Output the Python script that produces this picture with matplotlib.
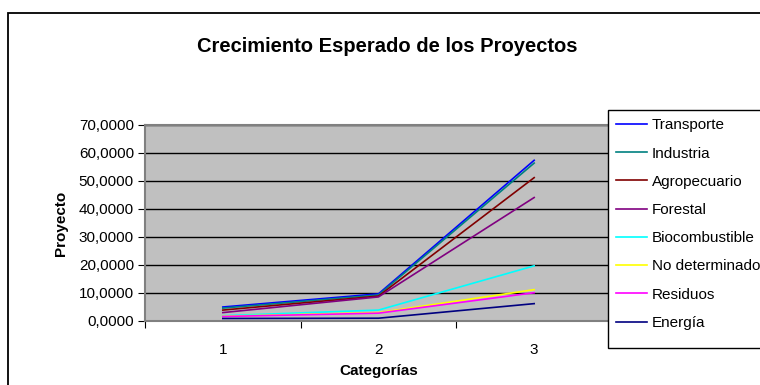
import matplotlib
matplotlib.use("Agg")
import matplotlib.pyplot as plt
from matplotlib.patches import Rectangle
from matplotlib.ticker import FuncFormatter, FixedLocator

plt.rcParams['font.family'] = ['Liberation Sans', 'DejaVu Sans']

# Data
categorias = [1, 2, 3]
transporte = [5.0, 9.7, 57.4]
industria = [4.6, 9.3, 56.4]
agropecuario = [3.9, 8.9, 51.2]
forestal = [3.0, 8.6, 44.1]
biocombustible = [1.9, 3.9, 19.7]
no_determinado = [1.7, 3.0, 11.2]
residuos = [1.6, 2.8, 10.1]
energia = [0.9, 1.0, 6.2]

series = [
    ("Transporte", transporte, "#0000ff"),
    ("Industria", industria, "#008080"),
    ("Agropecuario", agropecuario, "#800000"),
    ("Forestal", forestal, "#800080"),
    ("Biocombustible", biocombustible, "#00ffff"),
    ("No determinado", no_determinado, "#ffff00"),
    ("Residuos", residuos, "#ff00ff"),
    ("Energía", energia, "#000080"),
]

W, H = 760, 385
fig = plt.figure(figsize=(W / 100, H / 100), dpi=100)

# plot area in pixels: x 145..612, y 125..321
ax = fig.add_axes([145 / W, 1 - 321 / H, (612 - 145) / W, (321 - 125) / H])
ax.set_facecolor("#c0c0c0")

handles = []
for name, vals, color in series:
    h, = ax.plot(categorias, vals, color=color, lw=1.2, label=name)
    handles.append(h)

ax.set_xlim(0.5, 3.5)
ax.set_ylim(0, 70)
ax.set_yticks(range(0, 71, 10))
ax.yaxis.set_major_formatter(FuncFormatter(lambda v, p: f"{v:.4f}".replace(".", ",")))
ax.grid(axis="y", color="black", lw=1)
ax.set_axisbelow(True)

ax.xaxis.set_major_locator(FixedLocator([0.5, 1.5, 2.5, 3.5]))
ax.xaxis.set_minor_locator(FixedLocator(categorias))
ax.set_xticklabels([])
ax.set_xticklabels([str(c) for c in categorias], minor=True)
ax.tick_params(axis="x", which="minor", length=0, pad=16, labelsize=11)
ax.tick_params(axis="x", which="major", length=5, direction="out", color="black")
ax.tick_params(axis="y", length=5, direction="out", color="black", labelsize=11, pad=3)

for s in ax.spines.values():
    s.set_color("#808080")
    s.set_linewidth(1.5)

ax.set_xlabel("Categorías", fontsize=11, fontweight="bold", labelpad=5)
ax.set_ylabel("Proyecto", fontsize=11, fontweight="bold", labelpad=8)

fig.text(387 / W, 1 - 46 / H, "Crecimiento Esperado de los Proyectos",
         ha="center", va="center", fontsize=14.5, fontweight="bold")

# legend box (Excel leaves extra room at the bottom)
fig.add_artist(Rectangle((608 / W, 1 - 348 / H), 200 / W, (348 - 110) / H,
                         transform=fig.transFigure, fc="white", ec="black",
                         lw=1.0, zorder=4))
leg = fig.legend(handles=handles, loc="upper left",
                 bbox_to_anchor=(608 / W, 1 - 110 / H, 220 / W, 0),
                 mode="expand", fontsize=11, frameon=False,
                 borderpad=0.55, labelspacing=0.93, handlelength=2.0,
                 handletextpad=0.3, borderaxespad=0)
leg.set_zorder(5)

# outer chart border
fig.add_artist(Rectangle((8 / W, -0.1), 2, 1 - 13 / H + 0.1, transform=fig.transFigure,
                         fill=False, ec="black", lw=1.3))

fig.savefig("out.png", dpi=100)
